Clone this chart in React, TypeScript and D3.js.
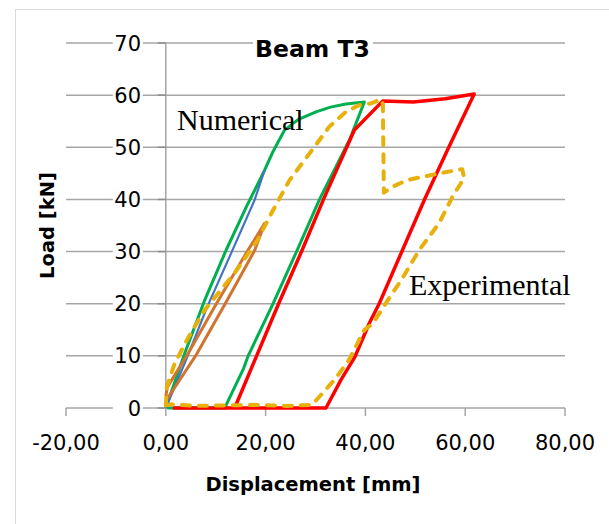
import React from 'react';
import * as d3 from 'd3';

// tick values
const xTicks = [-20, 0, 20, 40, 60, 80];
const yTicks = [0, 10, 20, 30, 40, 50, 60, 70];

// [displacement mm, load kN]
const greenCurve: [number, number][] = [
	[0, 0], [3.8, 10.5], [7.8, 20.7], [12.1, 30.3], [16, 38.3], [19.8, 45.6],
	[21.5, 49.2], [23.8, 53.3], [26.5, 55.3], [30.1, 56.8], [33, 57.7],
	[36.1, 58.3], [39.8, 58.7], [36.8, 51.4], [30.8, 40], [26.2, 30],
	[21.5, 20], [16.5, 10], [15.6, 7.6], [12.1, 0.6], [12, 0], [0.3, 0],
];

const blueCurve: [number, number][] = [
	[0, 0], [3.8, 8.6], [8.3, 19.4], [13.1, 29.7], [17.8, 39.9], [19.8, 45.6],
];

const orangeCurve: [number, number][] = [
	[0, 2.2], [0.3, 4], [4.5, 10.5], [10.3, 20.3], [16.3, 30], [19.8, 35.4],
	[17.8, 30.2], [11.9, 20], [6.1, 10.2], [1.5, 3.5], [0.3, 1.8],
];

const redCurve: [number, number][] = [
	[1.4, 0], [13.8, 0], [18.2, 10], [22.6, 20], [27.2, 30], [31.6, 40],
	[37.8, 53.3], [43.5, 58.9], [49.6, 58.7], [56, 59.3], [61.8, 60.2],
	[56.4, 49.4], [51.8, 39.9], [42.8, 20.1], [40.8, 16.3], [37.9, 9.8],
	[35.1, 5.4], [32.1, 0], [13.8, 0],
];

const yellowCurve: [number, number][] = [
	[0, 0.5], [0.2, 4], [1.8, 8.6], [4.5, 13.5], [7.8, 18.8], [13.8, 25.9],
	[18.4, 32.2], [20.8, 36.7], [24.8, 43.7], [29.1, 49.2], [32.8, 54],
	[36.1, 56.8], [38.8, 58.1], [41.1, 58.4], [43.1, 59.2], [43.5, 58.3],
	[43.7, 41.3], [45.4, 42.4], [48.3, 43.7], [52.8, 44.6], [56.5, 45.3],
	[59.4, 45.8], [59.8, 44.1], [57.6, 40.8], [54.8, 35.5], [50.8, 30.3],
	[47.3, 24.7], [44.1, 20.1], [41.5, 16.2], [39.8, 15], [36.7, 9.2],
	[33.8, 5.4], [29.3, 0.6], [24, 0.4], [18, 0.6], [12, 0.5], [6, 0.4],
	[1, 0.7], [0, 0.5],
];

const W = 609;
const H = 524;
const sans = 'DejaVu Sans, sans-serif';
const serif = 'Liberation Serif, Times New Roman, serif';
const gridColor = '#a6a6a6';

const x = d3.scaleLinear().domain([-20, 80]).range([66, 565]);
const y = d3.scaleLinear().domain([0, 70]).range([408, 43]);

const line = d3.line<[number, number]>()
	.x((d) => x(d[0]))
	.y((d) => y(d[1]));

const fmt = (v: number) => v.toFixed(2).replace('.', ',');

const App = () => {
	return (
		<svg width={W} height={H} style={{ position: 'absolute', left: 0, top: 0 }}>
			<rect width={W} height={H} fill="#fff" />
			<rect x={15.5} y={9.5} width={700} height={700} fill="none" stroke="#d9d9d9" />

			{/* gridlines */}
			{yTicks.filter((t) => t > 0).map((t) => (
				<line key={t} x1={x(-20)} x2={x(80)} y1={y(t)} y2={y(t)}
					stroke={gridColor} strokeWidth={1.5} />
			))}

			{/* axes */}
			<line x1={x(-20)} x2={x(80)} y1={y(0)} y2={y(0)} stroke={gridColor} strokeWidth={1.5} />
			<line x1={x(0)} x2={x(0)} y1={y(70)} y2={y(0)} stroke={gridColor} strokeWidth={1.5} />
			{xTicks.map((t) => (
				<line key={t} x1={x(t)} x2={x(t)} y1={y(0)} y2={y(0) + 8}
					stroke={gridColor} strokeWidth={1.5} />
			))}
			{yTicks.map((t) => (
				<line key={t} x1={x(0) - 8} x2={x(0)} y1={y(t)} y2={y(t)}
					stroke="#8c8c8c" strokeWidth={1.5} />
			))}

			{/* y tick labels with white box */}
			{yTicks.map((t) => (
				<g key={t}>
					<rect x={x(0) - 53} y={y(t) - 9} width={30} height={18} fill="#fff" />
					<text x={141} y={y(t) + 7.5} textAnchor="end" fontFamily={sans}
						fontSize={21} fill="#000">{t}</text>
				</g>
			))}

			{/* x tick labels */}
			{xTicks.map((t) => (
				<text key={t} x={x(t)} y={450} textAnchor="middle" fontFamily={sans}
					fontSize={21} fill="#000">{fmt(t)}</text>
			))}

			{/* series */}
			<path d={line(greenCurve) ?? ''} fill="none" stroke="#00b050" strokeWidth={3}
				strokeLinejoin="round" />
			<path d={line(blueCurve) ?? ''} fill="none" stroke="#4472c4" strokeWidth={2.2}
				strokeLinejoin="round" />
			<path d={line(orangeCurve) ?? ''} fill="none" stroke="#d0742f" strokeWidth={3}
				strokeLinejoin="round" />
			<path d={line(redCurve) ?? ''} fill="none" stroke="#ff0000" strokeWidth={3.5}
				strokeLinejoin="round" />
			<path d={line(yellowCurve) ?? ''} fill="none" stroke="#e8b00a" strokeWidth={4}
				strokeDasharray="8 9" strokeLinecap="round" strokeLinejoin="round" />

			{/* title */}
			<rect x={253} y={34} width={120} height={18} fill="#fff" />
			<text x={312.5} y={57} textAnchor="middle" fontFamily={sans} fontWeight="bold"
				fontSize={23.5} fill="#000">Beam T3</text>

			{/* annotations */}
			<text x={177} y={130} fontFamily={serif} fontSize={30} fill="#000">Numerical</text>
			<text x={409} y={295} fontFamily={serif} fontSize={30} fill="#000">Experimental</text>

			{/* axis titles */}
			<text x={313} y={491} textAnchor="middle" fontFamily={sans} fontWeight="bold"
				fontSize={19.5} fill="#000">Displacement [mm]</text>
			<text transform={`translate(54, ${ y(35) }) rotate(-90)`} textAnchor="middle"
				fontFamily={sans} fontWeight="bold" fontSize={19.5} fill="#000">Load [kN]</text>
		</svg>
	);
};

export default App;
